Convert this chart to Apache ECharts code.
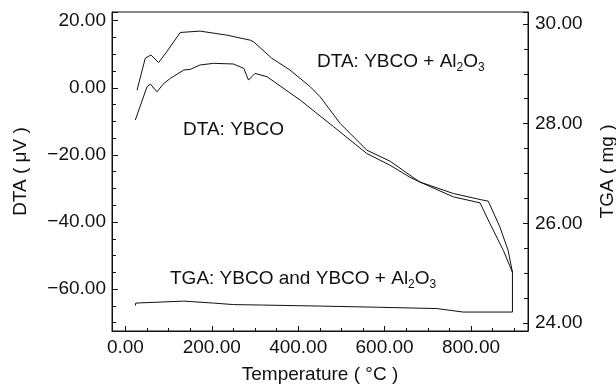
<!DOCTYPE html>
<html>
<head>
<meta charset="utf-8">
<script src="https://cdn.jsdelivr.net/npm/echarts@6/dist/echarts.min.js"></script>
<style>
  html, body { margin: 0; padding: 0; background: #fff; }
  #main { width: 616px; height: 385px; }
</style>
</head>
<body>
<div id="main"></div>
<script>
// DTA: YBCO + Al2O3 (upper curve)
var alTemp = [27, 46, 59, 77, 96, 127, 173, 235, 289, 297, 339, 381, 428, 451, 497, 559, 613, 666, 682, 759, 821, 840, 867, 886, 896];
var alDta  = [-0.7, 8.8, 9.8, 7.5, 10.8, 16.5, 16.9, 15.7, 14.2, 13.7, 8.8, 5.3, 0.3, -2.7, -10.6, -18.6, -21.9, -26.7, -28.1, -31.5, -33.3, -33.8, -41.5, -48.5, -55.0];
// DTA: YBCO (lower curve)
var ybTemp = [23, 50, 58, 73, 89, 104, 135, 150, 173, 204, 250, 274, 285, 300, 328, 405, 482, 559, 613, 659, 682, 759, 821, 844, 875, 896];
var ybDta  = [-9.6, 0.3, 1.1, -1.2, 1.3, 2.8, 5.3, 5.5, 6.8, 7.3, 7.1, 5.8, 2.3, 4.3, 3.3, -3.7, -11.6, -19.6, -23.1, -26.7, -28.1, -32.5, -34.3, -40.5, -48.5, -55.0];
// TGA (mg), right axis
var tgaTemp = [23, 24, 135, 204, 250, 320, 451, 566, 721, 782, 896, 896];
var tgaMass = [24.35, 24.40, 24.44, 24.40, 24.37, 24.36, 24.34, 24.32, 24.29, 24.22, 24.22, 25.05];

function zip(a, b) {
  var out = [];
  for (var i = 0; i < a.length; i++) out.push([a[i], b[i]]);
  return out;
}

var ink = '#111';
var font = 'Liberation Sans, Arial, sans-serif';

var myChart = echarts.init(document.getElementById('main'));

var axisCommon = {
  axisLine: { show: true, onZero: false, lineStyle: { color: ink, width: 1 } },
  axisTick: { show: true, inside: true, length: 6, lineStyle: { color: ink } },
  minorTick: { show: true, splitNumber: 4, length: 4, lineStyle: { color: ink } },
  splitLine: { show: false },
  nameTextStyle: { color: ink, fontSize: 19, fontFamily: font }
};

function labelStyle(margin) {
  return {
    color: ink, fontSize: 19, fontFamily: font, margin: margin,
    showMinLabel: false, showMaxLabel: false,
    formatter: function (v) { return v.toFixed(2).replace('-', '\u2212'); }
  };
}

var opt = {
  animation: false,
  backgroundColor: '#fff',
  grid: {
    left: 112, right: 88, top: 12, bottom: 54,
    containLabel: false, outerBoundsMode: 'none',
    show: true, borderColor: ink, borderWidth: 1
  },
  xAxis: Object.assign({}, axisCommon, {
    type: 'value', min: -31, max: 932, splitNumber: 5,
    name: 'Temperature ( °C )', nameLocation: 'middle', nameGap: 34,
    axisLabel: labelStyle(7),
    axisTick: { show: true, inside: true, length: 5, lineStyle: { color: ink } },
    minorTick: { show: true, splitNumber: 4, length: 3, lineStyle: { color: ink } }
  }),
  yAxis: [
    Object.assign({}, axisCommon, {
      type: 'value', position: 'left', min: -72.5, max: 22.6, splitNumber: 5,
      name: 'DTA ( μV )', nameLocation: 'middle', nameGap: 82, nameRotate: 90,
      axisLabel: labelStyle(6)
    }),
    Object.assign({}, axisCommon, {
      type: 'value', position: 'right', min: 23.84, max: 30.24, splitNumber: 3,
      name: 'TGA ( mg )', nameLocation: 'middle', nameGap: 70, nameRotate: 90,
      axisLabel: labelStyle(7),
      axisTick: { show: true, inside: true, length: 5, lineStyle: { color: ink } }
    })
  ],
  series: [
    {
      name: 'DTA: YBCO + Al2O3', type: 'line', yAxisIndex: 0,
      showSymbol: false, lineStyle: { color: ink, width: 1 },
      data: zip(alTemp, alDta)
    },
    {
      name: 'DTA: YBCO', type: 'line', yAxisIndex: 0,
      showSymbol: false, lineStyle: { color: ink, width: 1 },
      data: zip(ybTemp, ybDta)
    },
    {
      name: 'TGA', type: 'line', yAxisIndex: 1,
      showSymbol: false, lineStyle: { color: ink, width: 1 },
      data: zip(tgaTemp, tgaMass)
    }
  ],
  graphic: [
    {
      type: 'text', left: 317, top: 52,
      style: {
        text: '{a|DTA: YBCO + Al}{b|2}{a|O}{b|3}',
        rich: {
          a: { fontSize: 19, fontFamily: font, fill: ink, lineHeight: 24 },
          b: { fontSize: 12, fontFamily: font, fill: ink, lineHeight: 12, verticalAlign: 'bottom' }
        }
      }
    },
    {
      type: 'text', left: 183, top: 120,
      style: { text: 'DTA: YBCO', fontSize: 19, fontFamily: font, fill: ink }
    },
    {
      type: 'text', left: 170, top: 269,
      style: {
        text: '{a|TGA: YBCO and YBCO + Al}{b|2}{a|O}{b|3}',
        rich: {
          a: { fontSize: 19, fontFamily: font, fill: ink, lineHeight: 24 },
          b: { fontSize: 12, fontFamily: font, fill: ink, lineHeight: 12, verticalAlign: 'bottom' }
        }
      }
    }
  ]
};

myChart.setOption(opt);
</script>
</body>
</html>
